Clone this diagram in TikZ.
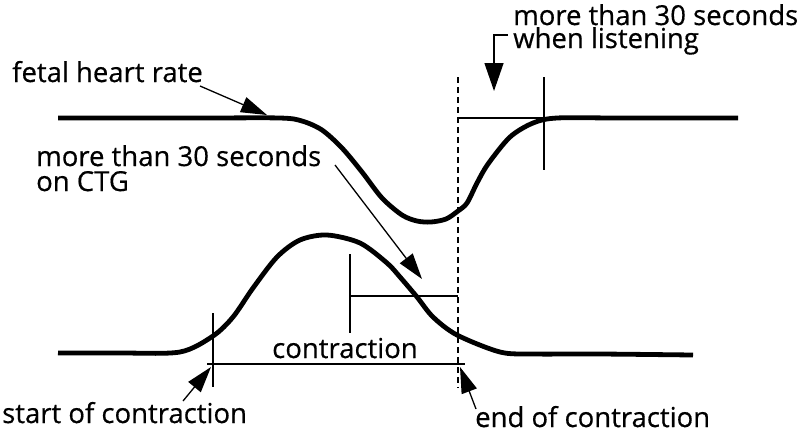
\documentclass[tikz,border=0pt]{standalone}
\usepackage{fontspec}
\setmainfont{Open Sans}[FakeBold=0.5]
\usetikzlibrary{arrows.meta}
\begin{document}
\begin{tikzpicture}[x=1pt,y=-1pt,
  curve/.style={line width=4.8pt,line join=round},
  thin/.style={line width=1.3pt},
  dashedline/.style={line width=1.3pt,dash pattern=on 6pt off 4pt},
  pointer/.style={line width=1.3pt,-{Triangle[length=26pt,width=16pt]}},
  lbl/.style={inner sep=0pt,font=\fontsize{27.5}{27.5}\selectfont}]
\useasboundingbox (0,0) rectangle (810,437);
% fetal heart rate curve
\draw[curve] plot[smooth,tension=0.5] coordinates {(58,118) (200,118) (280,118) (302,121) (322,130) (342,148) (362,172) (382,198) (402,215) (417,221) (431,222) (446,219) (458,211) (467,203) (477,183) (488,164) (510,137) (533,123) (557,118) (620,118) (738,118)};
% contraction curve
\draw[curve] plot[smooth,tension=0.5] coordinates {(58,353) (120,353) (180,352) (213,336) (233,317) (253,288) (277,257) (300,240) (327,235) (360,243) (387,263) (400,277) (417,297) (433,317) (457,335) (500,352) (533,354) (600,354) (693,355)};
% dashed line
\coordinate (dtop) at (458,77);
\coordinate (dbot) at (458,388);
\draw[dashedline] (dtop) -- (dbot);
% listening interval
\coordinate (lA) at (458,118);
\coordinate (lB) at (544,118);
\coordinate (lT) at (544,77);
\coordinate (lD) at (544,170);
\draw[thin] (lA) -- (lB);
\draw[thin] (lT) -- (lD);
% CTG interval
\coordinate (cA) at (350,296);
\coordinate (cB) at (458,296);
\coordinate (cT) at (350,254);
\coordinate (cD) at (350,333);
\draw[thin] (cA) -- (cB);
\draw[thin] (cT) -- (cD);
% contraction interval
\coordinate (sT) at (213,313);
\coordinate (sD) at (213,387);
\coordinate (hA) at (207,364);
\coordinate (hB) at (465,364);
\draw[thin] (sT) -- (sD);
\draw[thin] (hA) -- (hB);
% labels
\node[lbl,anchor=base west] (fhr) at (12,82) {fetal heart rate};
\node[lbl,anchor=base west] (ctg1) at (36,166) {more than 30 seconds};
\node[lbl,anchor=base west] (ctg2) at (36,191) {on CTG};
\node[lbl,anchor=base west] (lis1) at (513,25) {more than 30 seconds};
\node[lbl,anchor=base west] (lis2) at (513,48) {when listening};
\node[lbl,anchor=base west] (con) at (272,358) {contraction};
\node[lbl,anchor=base west] (start) at (2,423) {start of contraction};
\node[lbl,anchor=base west] (end) at (475,427) {end of contraction};
% arrows
\coordinate (fhrS) at (200,86);
\coordinate (fhrT) at (267,115);
\draw[pointer] (fhrS) -- (fhrT);
\coordinate (ctgS) at (335,165);
\coordinate (ctgT) at (422,279);
\draw[pointer] (ctgS) -- (ctgT);
\coordinate (lisS) at (508,35);
\coordinate (lisC) at (494,35);
\coordinate (lisT) at (494,91);
\draw[line width=1.3pt,-{Triangle[length=28pt,width=19pt]}] (lisS) -- (lisC) -- (lisT);
\coordinate (stS) at (183,401);
\coordinate (stT) at (211,367);
\draw[pointer] (stS) -- (stT);
\coordinate (enS) at (476,409);
\coordinate (enT) at (460,367);
\draw[pointer] (enS) -- (enT);
\end{tikzpicture}
\end{document}
